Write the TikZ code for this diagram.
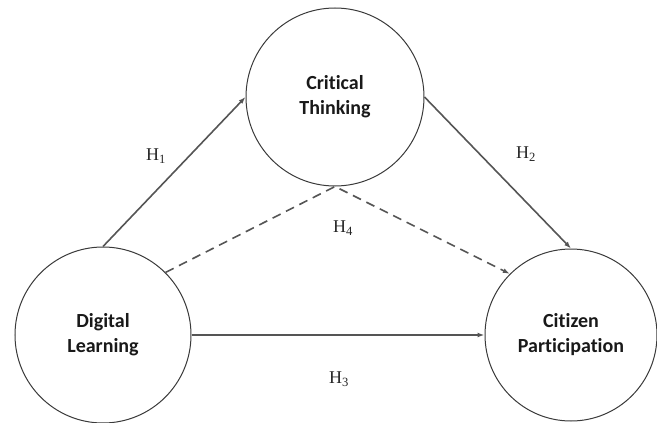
\documentclass[tikz,border=0pt]{standalone}
\usepackage{fontspec}
\setmainfont{Liberation Serif}
\newfontfamily\calfont[Ligatures=NoCommon]{Carlito}
\usetikzlibrary{arrows.meta}
\definecolor{circgray}{HTML}{3A3A3A}
\definecolor{linegray}{HTML}{555555}
\tikzset{
  construct/.style={circle, draw=circgray, line width=1pt, inner sep=0pt, align=center,
    font=\calfont\bfseries\fontsize{20}{25}\selectfont, text=black!90},
  path arrow/.style={draw=linegray, line width=1.6pt, -{Latex[length=7pt,width=5pt]}},
  dashed arrow/.style={path arrow, dash pattern=on 9pt off 6pt},
  hlabel/.style={font=\fontsize{18}{20}\selectfont, text=black!85}
}
\begin{document}
\begin{tikzpicture}[x=1pt,y=-1pt]
\useasboundingbox (0,0) rectangle (657,423);
\node[construct, minimum size=178pt] (CT) at (335,97) {Critical\\Thinking};
\node[construct, minimum size=176pt] (DL) at (103,335) {Digital\\Learning};
\node[construct, minimum size=172pt] (CP) at (571,335) {Citizen\\Participation};
\draw[path arrow] (DL.north) -- (CT.west);
\draw[path arrow] (CT.east) -- (CP.north);
\draw[path arrow] (DL.east) -- (CP.west);
\draw[dashed arrow] (DL.45) -- (CT.south) -- (CP.135);
\node[hlabel] (h1) at (156,156) {H\textsubscript{1}};
\node[hlabel] (h2) at (526,154) {H\textsubscript{2}};
\node[hlabel] (h3) at (339,379) {H\textsubscript{3}};
\node[hlabel] (h4) at (343,228) {H\textsubscript{4}};
\end{tikzpicture}
\end{document}
